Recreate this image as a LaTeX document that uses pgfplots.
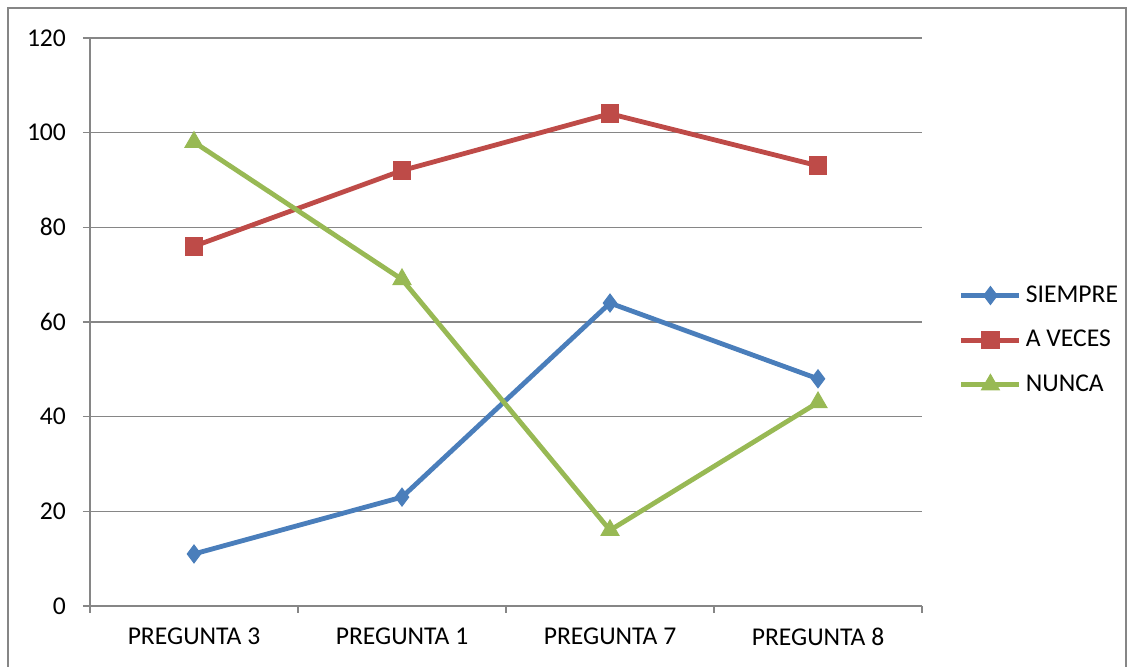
\documentclass[border=0pt]{standalone}
\usepackage{fontspec}
\setmainfont{Carlito}
\usepackage{pgfplots}
\pgfplotsset{compat=1.18}
\definecolor{sblue}{HTML}{4A7EBB}
\definecolor{sred}{HTML}{BE4B48}
\definecolor{sgreen}{HTML}{98B954}
\definecolor{gline}{HTML}{868686}
\begin{document}
\begin{tikzpicture}
\useasboundingbox (-45pt,-30.5pt) rectangle (519pt,303pt);
\draw[gline, line width=0.7pt] (-41pt,-31pt) -- (-41pt,299pt) -- (518pt,299pt) -- (518pt,-31pt);
\begin{axis}[
  scale only axis,
  width=416pt, height=284pt,
  xmin=-0.5, xmax=3.5,
  ymin=0, ymax=120,
  ytick={0,20,...,120},
  xtick={0,1,2,3},
  xticklabels={PREGUNTA 3, PREGUNTA 1, PREGUNTA 7, PREGUNTA 8},
  minor xtick={-0.5,0.5,1.5,2.5,3.5},
  axis lines*=left,
  axis line style={gline, line width=0.7pt, -},
  ymajorgrids,
  grid style={gline, line width=0.6pt},
  major grid style={gline, line width=0.6pt},
  tick style={gline, line width=0.7pt},
  tick align=outside,
  major tick length=3.5pt,
  minor tick length=3.5pt,
  x tick style={draw=none},
  minor x tick style={draw=gline},
  tick label style={font=\fontsize{12.8}{15}\selectfont, text=black},
  /pgf/number format/assume math mode=true,
  yticklabel style={xshift=-5pt},
  xticklabel style={yshift=-4pt},
  clip=false,
  legend style={draw=none, fill=none, at={(1.044,0.468)}, anchor=west,
    font=\fontsize{12.8}{15}\selectfont, inner sep=0pt, row sep=8.5pt,
    /tikz/every even column/.append style={column sep=0pt}},
  legend cell align=left,
  legend image code/.code={\draw[mark repeat=2,mark phase=2] plot coordinates {(0pt,0pt) (14.5pt,0pt) (29pt,0pt)};},
  every axis plot/.append style={line width=2.4pt},
]
\addplot[sblue, mark=diamond*, mark size=4.5pt, mark options={solid, line width=0.5pt}]
  coordinates {(0,11) (1,23) (2,64) (3,48)};
\addlegendentry{SIEMPRE}
\addplot[sred, mark=square*, mark size=4.4pt, mark options={solid, line width=0.5pt}]
  coordinates {(0,76) (1,92) (2,104) (3,93)};
\addlegendentry{A VECES}
\addplot[sgreen, mark=triangle*, mark size=5.2pt, mark options={solid, line width=0.5pt}]
  coordinates {(0,98) (1,69) (2,16) (3,43)};
\addlegendentry{NUNCA}
\end{axis}
\end{tikzpicture}
\end{document}
